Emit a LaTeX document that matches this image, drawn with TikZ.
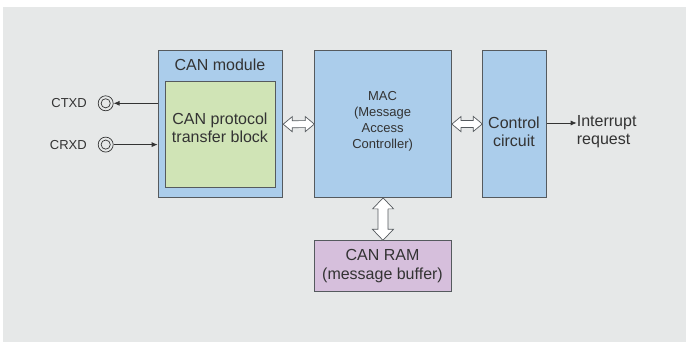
\documentclass[tikz,border=0pt]{standalone}
\usepackage{fontspec}
\setmainfont{Liberation Sans}
\usetikzlibrary{arrows.meta,calc}
\definecolor{bggray}{HTML}{E6E8E8}
\definecolor{boxblue}{HTML}{ABCDEB}
\definecolor{boxgreen}{HTML}{D0E4B6}
\definecolor{boxpurple}{HTML}{D6BFDC}
\definecolor{edgegray}{HTML}{555A5E}
\definecolor{txtgray}{HTML}{333333}
\tikzset{
  blk/.style={draw=edgegray, line width=0.9pt, inner sep=0pt, anchor=north west},
  bigtxt/.style={font=\fontsize{16}{18.4}\selectfont, text=txtgray, align=center, inner sep=0pt},
  smalltxt/.style={font=\fontsize{13}{16}\selectfont, text=txtgray, align=center, inner sep=0pt},
  fat/.style={draw=edgegray, line width=0.7pt, fill=white, line join=miter},
  thin/.style={draw=black!80, line width=0.8pt, -{Latex[length=6pt,width=5pt]}},
  port/.style={circle, draw=black!80, line width=0.7pt, minimum size=15pt, inner sep=0pt,
    path picture={\draw[black!80, line width=0.7pt] (path picture bounding box.center) circle (4.6pt);}}
}
\begin{document}
\begin{tikzpicture}[x=1pt,y=-1pt]
\useasboundingbox (0,0) rectangle (686,342);
\fill[white] (0,0) rectangle (686,342);
\fill[bggray] (3,7) rectangle (686,342);
% blocks
\node[blk, fill=boxblue, minimum width=124.6pt, minimum height=147.5pt] (canmod) at (157.7,50) {};
\node[blk, fill=boxgreen, minimum width=110pt, minimum height=105.4pt] (proto) at (165,81.3) {};
\node[blk, fill=boxblue, minimum width=136.7pt, minimum height=146.7pt] (mac) at (314.3,50.3) {};
\node[blk, fill=boxblue, minimum width=63.4pt, minimum height=146.4pt] (ctrl) at (482.3,50.3) {};
\node[blk, fill=boxpurple, minimum width=137pt, minimum height=50.7pt] (ram) at (314,240.3) {};
% texts
\node[bigtxt] (canmodtxt) at (220,64.3) {CAN module};
\node[bigtxt] (prototxt) at (220,127.5) {CAN protocol\\transfer block};
\node[smalltxt] (mactxt) at (382.6,121.7) {MAC\\(Message\\Access\\Controller)};
\node[bigtxt] (ctrltxt) at (514,131.8) {Control\\circuit};
\node[bigtxt] (ramtxt) at (382.5,266.2) {CAN RAM\\(message buffer)};
\node[bigtxt, anchor=west, align=left] (irq) at (576.7,131.8) {Interrupt\\request};
\coordinate (irqin) at (576.7,123);
% ports
\node[port] (ctxd) at (105.7,103.3) {};
\node[port] (crxd) at (105.7,144.6) {};
\node[smalltxt, anchor=east] (ctxdtxt) at (87,103.3) {CTXD};
\node[smalltxt, anchor=east] (crxdtxt) at (87,144.6) {CRXD};
% thin arrows
\draw[thin] (canmod.west |- ctxd) -- (ctxd.east);
\draw[thin] (crxd.east) -- (canmod.west |- crxd);
\draw[thin] (ctrl.east |- irqin) -- (irqin);
% fat double arrows
\draw[fat] (canmod.east) -- ++(9,-7.5) -- ++(0,4) -- ($(mac.west)+(-9,-3.5)$) -- ++(0,-4) -- (mac.west)
  -- ++(-9,7.5) -- ++(0,-4) -- ($(canmod.east)+(9,3.5)$) -- ++(0,4) -- cycle;
\draw[fat] (mac.east) -- ++(9,-7.5) -- ++(0,4) -- ($(ctrl.west)+(-9,-3.5)$) -- ++(0,-4) -- (ctrl.west)
  -- ++(-9,7.5) -- ++(0,-4) -- ($(mac.east)+(9,3.5)$) -- ++(0,4) -- cycle;
\draw[fat] (mac.south) -- ++(10.5,11) -- ++(-5.5,0) -- ($(ram.north)+(5,-11)$) -- ++(5.5,0) -- (ram.north)
  -- ++(-10.5,-11) -- ++(5.5,0) -- ($(mac.south)+(-5,11)$) -- ++(-5.5,0) -- cycle;
\end{tikzpicture}
\end{document}
